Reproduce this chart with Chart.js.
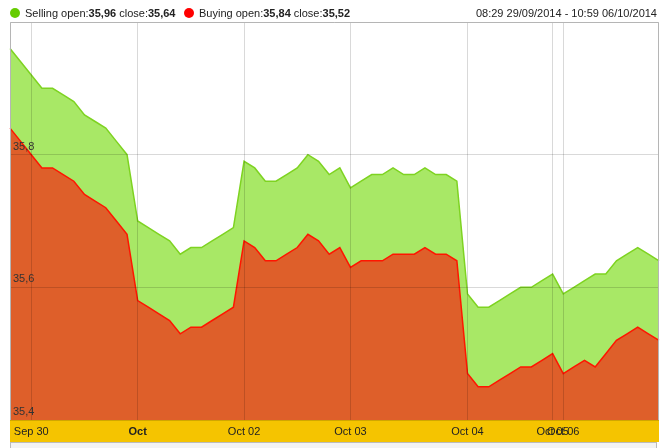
<!DOCTYPE html>
<html><head><meta charset="utf-8">
<script src="https://cdn.jsdelivr.net/npm/chart.js@4/dist/chart.umd.min.js"></script>
<style>
html,body{margin:0;padding:0;background:#fff;}
#wrap{position:relative;width:667px;height:448px;overflow:hidden;}
#c{position:absolute;left:0;top:0;}
.hdr{position:absolute;top:6px;font:11px Arial,"Liberation Sans",sans-serif;color:#222;white-space:nowrap;line-height:14px;}
.dot{position:absolute;top:8px;width:10px;height:10px;border-radius:50%;}
</style></head><body>
<div id="wrap">
<canvas id="c" width="667" height="448"></canvas>
<div id="hdr"></div>
</div>
<script>
// ---- data ----
const xTickLabels = ['', '', 'Sep 30', '', '', '', '', '', '', '', '', '', 'Oct', '', '', '', '', '', '', '', '', '', 'Oct 02', '', '', '', '', '', '', '', '', '', 'Oct 03', '', '', '', '', '', '', '', '', '', '', 'Oct 04', '', '', '', '', '', '', '', 'Oct 05', 'Oct 06', '', '', '', '', '', '', '', '', ''];
const selling = [35.96, 35.94, 35.92, 35.90, 35.90, 35.89, 35.88, 35.86, 35.85, 35.84, 35.82, 35.80,
  35.70, 35.69, 35.68, 35.67, 35.65, 35.66, 35.66, 35.67, 35.68, 35.69,
  35.79, 35.78, 35.76, 35.76, 35.77, 35.78, 35.80, 35.79, 35.77, 35.78,
  35.75, 35.76, 35.77, 35.77, 35.78, 35.77, 35.77, 35.78, 35.77, 35.77, 35.76,
  35.59, 35.57, 35.57, 35.58, 35.59, 35.60, 35.60, 35.61, 35.62,
  35.59, 35.60, 35.61, 35.62, 35.62, 35.64, 35.65, 35.66, 35.65, 35.64];
const buying = [35.84, 35.82, 35.80, 35.78, 35.78, 35.77, 35.76, 35.74, 35.73, 35.72, 35.70, 35.68,
  35.58, 35.57, 35.56, 35.55, 35.53, 35.54, 35.54, 35.55, 35.56, 35.57,
  35.67, 35.66, 35.64, 35.64, 35.65, 35.66, 35.68, 35.67, 35.65, 35.66,
  35.63, 35.64, 35.64, 35.64, 35.65, 35.65, 35.65, 35.66, 35.65, 35.65, 35.64,
  35.47, 35.45, 35.45, 35.46, 35.47, 35.48, 35.48, 35.49, 35.50,
  35.47, 35.48, 35.49, 35.48, 35.50, 35.52, 35.53, 35.54, 35.53, 35.52];
const yTickValues = [35.4, 35.6, 35.8, 36.0];
const seriesNames = ['Selling', 'Buying'];
const openValues = ['35,96', '35,84'];
const closeValues = ['35,64', '35,52'];
const rangeText = '08:29 29/09/2014 - 10:59 06/10/2014';

// ---- header (HTML text) ----
const hdr = document.getElementById('hdr');
const dotColors = ['#66cc00', '#ff0000'];
const dotX = [10, 184];
const textX = [25, 199];
seriesNames.forEach((n, i) => {
  const d = document.createElement('div');
  d.className = 'dot'; d.style.left = dotX[i] + 'px'; d.style.background = dotColors[i];
  hdr.appendChild(d);
  const t = document.createElement('div');
  t.className = 'hdr'; t.style.left = textX[i] + 'px';
  t.innerHTML = n + ' open:<b>' + openValues[i] + '</b> close:<b>' + closeValues[i] + '</b>';
  hdr.appendChild(t);
});
const r = document.createElement('div');
r.className = 'hdr'; r.style.right = '10px'; r.textContent = rangeText;
hdr.appendChild(r);

// ---- chart ----
const bandPlugin = {
  id: 'band',
  beforeDraw(chart) {
    const {ctx, chartArea: a} = chart;
    ctx.save();
    ctx.fillStyle = '#f5c400';
    ctx.fillRect(a.left, a.bottom, a.right - a.left, 22);
    ctx.fillStyle = '#f3f3f3';
    ctx.fillRect(a.left, a.bottom + 22, a.right - a.left - 2, 10);
    ctx.strokeStyle = '#bbbbbb';
    ctx.lineWidth = 1;
    ctx.strokeRect(a.left + 0.5, a.bottom + 22.5, a.right - a.left - 3, 12);
    ctx.restore();
  },
  afterDraw(chart) {
    const {ctx, chartArea: a} = chart;
    ctx.save();
    ctx.strokeStyle = '#b5b5b5';
    ctx.lineWidth = 1;
    ctx.beginPath();
    ctx.moveTo(a.left + 0.5, a.bottom);
    ctx.lineTo(a.left + 0.5, a.top + 0.5);
    ctx.lineTo(a.right - 0.5, a.top + 0.5);
    ctx.lineTo(a.right - 0.5, a.bottom);
    ctx.stroke();
    ctx.restore();
  }
};

new Chart(document.getElementById('c'), {
  type: 'line',
  data: {
    labels: xTickLabels,
    datasets: [
      { label: seriesNames[0], data: selling, borderColor: '#7ed321', backgroundColor: '#a8e866',
        fill: 'start', borderWidth: 1.5, pointRadius: 0, tension: 0, order: 2 },
      { label: seriesNames[1], data: buying, borderColor: '#ff1500', backgroundColor: '#de5f2a',
        fill: 'start', borderWidth: 1.5, pointRadius: 0, tension: 0, order: 1 }
    ]
  },
  options: {
    responsive: false,
    animation: false,
    layout: { padding: { top: 22, left: 10, right: 8, bottom: 6 } },
    plugins: { legend: { display: false }, tooltip: { enabled: false } },
    scales: {
      x: {
        type: 'category',
        offset: false,
        afterFit: s => { s.height = 22; },
        border: { display: false },
        grid: {
          z: 1,
          drawTicks: false,
          color: c => (c.tick && c.tick.label) ? 'rgba(0,0,0,0.15)' : 'rgba(0,0,0,0)'
        },
        ticks: {
          z: 1,
          autoSkip: false, maxRotation: 0, minRotation: 0, padding: 5,
          color: '#222',
          font: c => ({ family: 'Arial, "Liberation Sans", sans-serif', size: 11,
            weight: (c.tick && c.tick.label === 'Oct') ? 'bold' : 'normal' })
        }
      },
      y: {
        min: 35.4, max: 36.0,
        afterFit: s => { s.width = 0; },
        afterBuildTicks: s => { s.ticks = yTickValues.map(v => ({ value: v })); },
        border: { display: false },
        grid: { z: 1, drawTicks: false, color: 'rgba(0,0,0,0.15)' },
        ticks: {
          z: 1,
          mirror: true, padding: 3, labelOffset: -8,
          color: '#333',
          font: { family: 'Arial, "Liberation Sans", sans-serif', size: 11 },
          callback: v => (v >= 35.95 ? '' : v.toFixed(1).replace('.', ','))
        }
      }
    }
  },
  plugins: [bandPlugin]
});
</script>
</body></html>
